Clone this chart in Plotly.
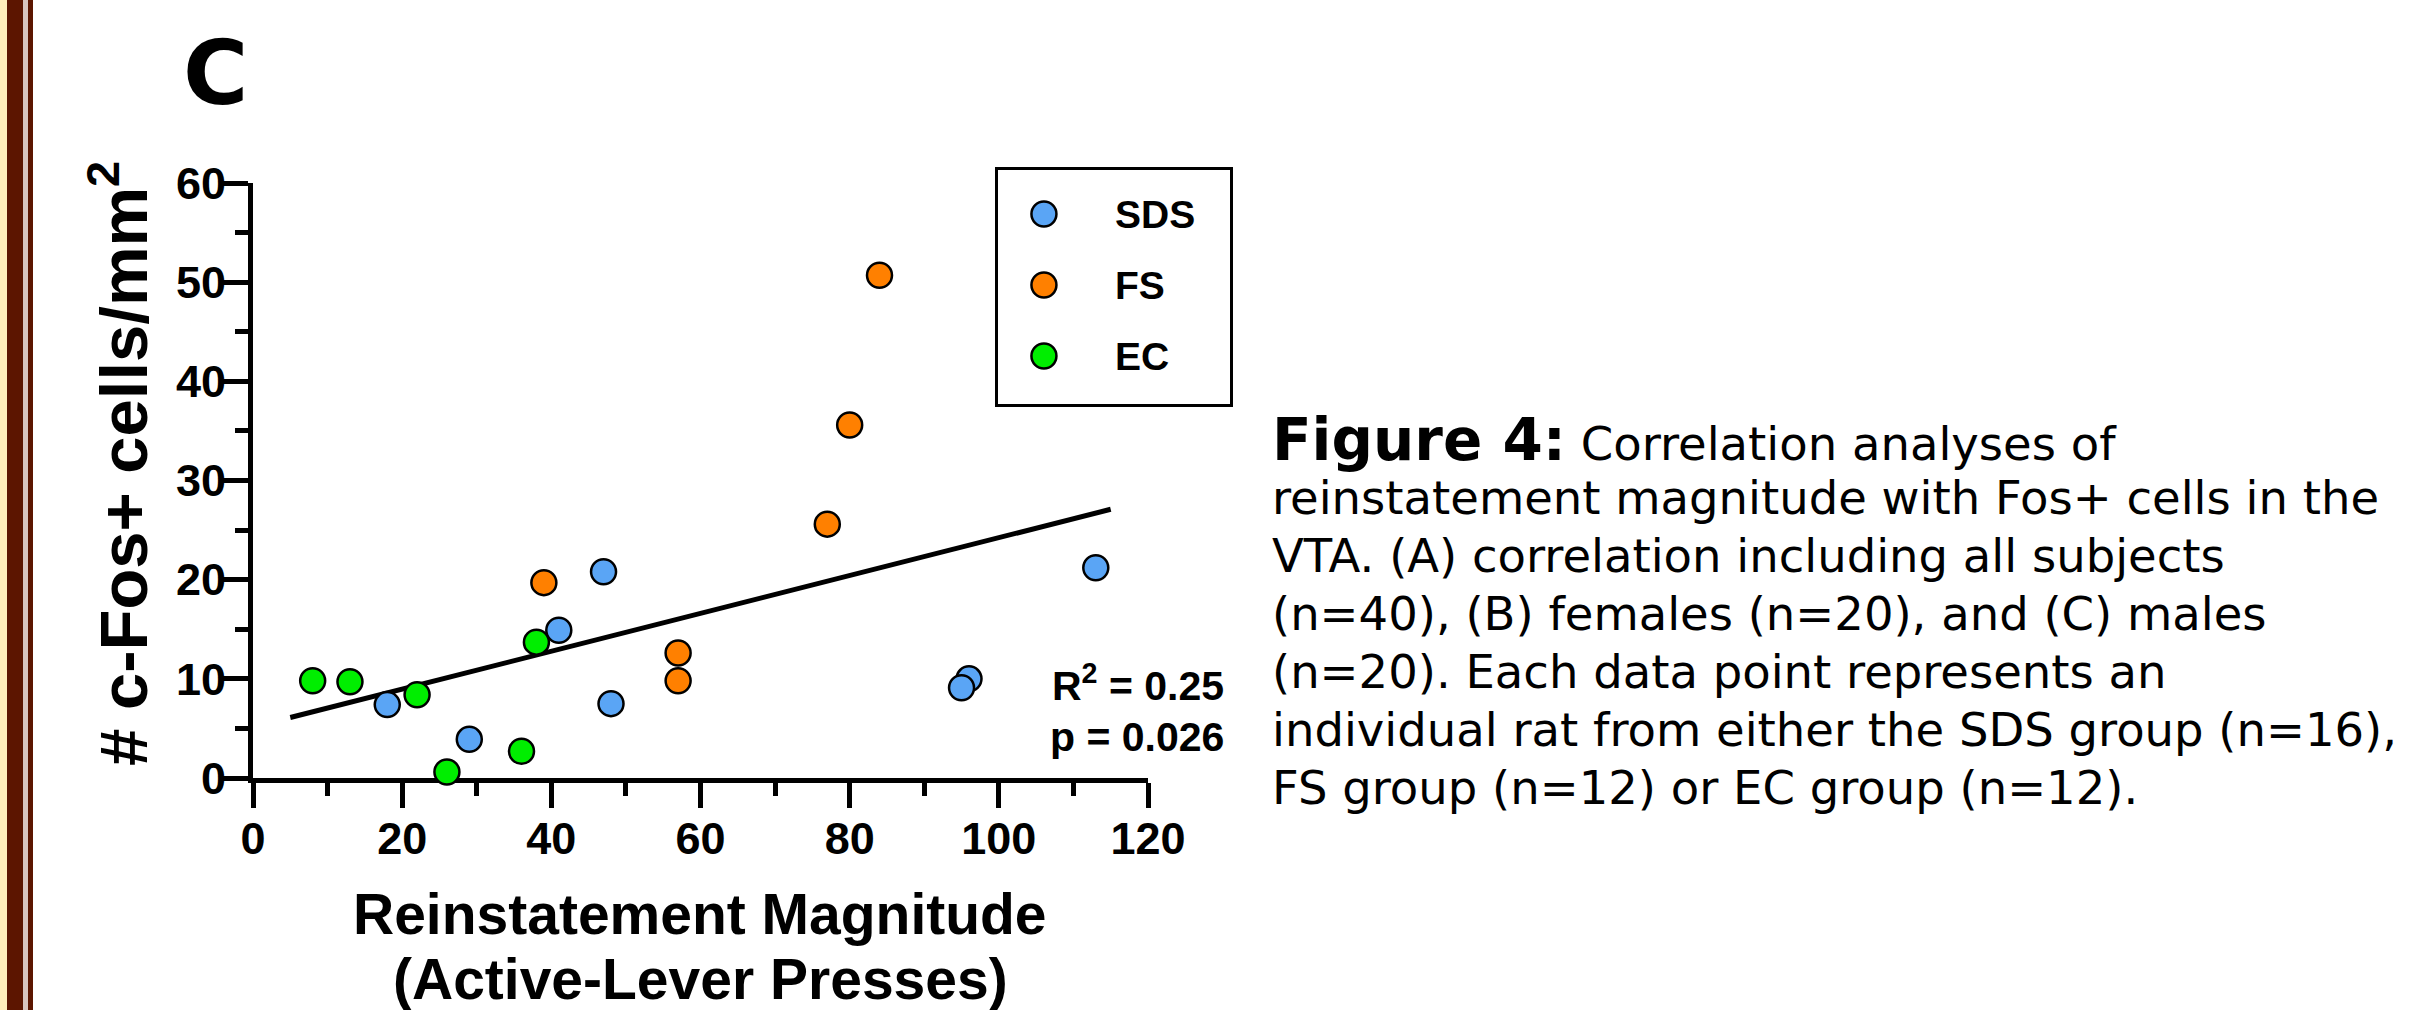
import plotly.graph_objects as go

W, H = 2436, 1010

# ---------------- data ----------------
groups = ["SDS", "FS", "EC"]
group_colors = ["#5AA5F5", "#FF8000", "#00EE00"]

sds_x = [18, 29, 41, 47, 48, 96, 95, 113]
sds_y = [7.4, 3.9, 14.9, 20.8, 7.5, 10.0, 9.1, 21.2]
fs_x = [39, 57, 57, 77, 80, 84]
fs_y = [19.7, 12.6, 9.8, 25.6, 35.6, 50.7]
ec_x = [8, 13, 22, 26, 36, 38]
ec_y = [9.8, 9.7, 8.4, 0.6, 2.7, 13.7]

fit_x = [5, 115]
fit_y = [6.1, 27.1]

x_ticks = [0, 20, 40, 60, 80, 100, 120]
y_ticks = [0, 10, 20, 30, 40, 50, 60]

panel_label = "C"
x_title = ["Reinstatement Magnitude", "(Active-Lever Presses)"]
y_title = "# c-Fos+ cells/mm<sup>2</sup>"
stats_text = ["R<sup>2</sup> = 0.25", "p = 0.026"]
caption_lines = [
    "<span style='font-size:58px'><b>Figure 4:</b></span> Correlation analyses of",
    "reinstatement magnitude with Fos+ cells in the",
    "VTA. (A) correlation including all subjects",
    "(n=40), (B) females (n=20), and (C) males",
    "(n=20). Each data point represents an",
    "individual rat from either the SDS group (n=16),",
    "FS group (n=12) or EC group (n=12).",
]

series_x = [sds_x, fs_x, ec_x]
series_y = [sds_y, fs_y, ec_y]


def px(v):
    return v / W


def py(v):
    return 1 - v / H


ARIAL = "Liberation Sans, Arial, sans-serif"

fig = go.Figure()

# regression line
fig.add_trace(go.Scatter(
    x=fit_x, y=fit_y, mode="lines",
    line=dict(color="black", width=5),
    showlegend=False, hoverinfo="skip", xaxis="x", yaxis="y",
))

# data points
for name, col, xs, ys in zip(groups, group_colors, series_x, series_y):
    fig.add_trace(go.Scatter(
        x=xs, y=ys, mode="markers", name=name,
        marker=dict(size=25, color=col, line=dict(color="black", width=2.5)),
        cliponaxis=False, showlegend=False, xaxis="x", yaxis="y",
    ))

# legend (drawn in its own small axes box)
fig.add_trace(go.Scatter(
    x=[0.198] * len(groups), y=groups, mode="markers",
    marker=dict(size=25, color=group_colors, line=dict(color="black", width=2.5)),
    cliponaxis=False, showlegend=False, xaxis="x2", yaxis="y2", hoverinfo="skip",
))

tickfont = dict(family=ARIAL, size=45, color="black", weight="bold")

fig.update_layout(
    width=W, height=H,
    margin=dict(l=0, r=0, t=0, b=0, autoexpand=False),
    paper_bgcolor="white", plot_bgcolor="white",
    showlegend=False,
    xaxis=dict(
        domain=[px(253), px(1148)], range=[0, 120], anchor="y",
        tickmode="array", tickvals=x_ticks, ticktext=[str(v) for v in x_ticks],
        ticks="outside", ticklen=25, tickwidth=5, tickcolor="black",
        showline=True, linewidth=5, linecolor="black",
        showgrid=False, zeroline=False, layer="below traces",
        minor=dict(tickmode="linear", tick0=0, dtick=10, ticks="outside",
                   ticklen=13, tickwidth=5, tickcolor="black", showgrid=False),
        tickfont=tickfont, automargin=False, ticklabelstandoff=-8,
    ),
    yaxis=dict(
        domain=[py(778), py(183)], range=[0, 60], anchor="x",
        tickmode="array", tickvals=y_ticks, ticktext=[str(v) for v in y_ticks],
        ticks="outside", ticklen=25, tickwidth=5, tickcolor="black",
        showline=True, linewidth=5, linecolor="black",
        showgrid=False, zeroline=False, layer="below traces",
        minor=dict(tickmode="linear", tick0=0, dtick=5, ticks="outside",
                   ticklen=13, tickwidth=5, tickcolor="black", showgrid=False),
        tickfont=tickfont, automargin=False, ticklabelstandoff=-12,
    ),
    xaxis2=dict(
        domain=[px(998), px(1230)], range=[0, 1], anchor="y2",
        showline=True, mirror=True, linewidth=3, linecolor="black",
        showticklabels=False, ticks="", showgrid=False, zeroline=False,
    ),
    yaxis2=dict(
        domain=[py(404), py(170)], anchor="x2", type="category",
        categoryorder="array", categoryarray=groups[::-1], range=[-0.675, 2.62],
        showline=True, mirror=True, linewidth=3, linecolor="black",
        showticklabels=False, ticks="", showgrid=False, zeroline=False,
    ),
)

ann = []
# panel label
ann.append(dict(text=panel_label, x=px(215), y=py(73), xref="paper", yref="paper",
                showarrow=False, xanchor="center", yanchor="middle",
                font=dict(family="DejaVu Sans", size=89, color="black", weight="bold")))
# axis titles
ann.append(dict(text=x_title[0], x=px(700), y=py(914), xref="paper", yref="paper",
                showarrow=False, xanchor="center", yanchor="middle",
                font=dict(family=ARIAL, size=57, color="black", weight="bold")))
ann.append(dict(text=x_title[1], x=px(700), y=py(979), xref="paper", yref="paper",
                showarrow=False, xanchor="center", yanchor="middle",
                font=dict(family=ARIAL, size=57, color="black", weight="bold")))
ann.append(dict(text=y_title, x=px(119), y=py(464), xref="paper", yref="paper",
                showarrow=False, xanchor="center", yanchor="middle", textangle=-90,
                font=dict(family=ARIAL, size=67, color="black", weight="bold")))
# statistics
ann.append(dict(text=stats_text[0], x=px(1226), y=py(683), xref="paper", yref="paper",
                showarrow=False, xanchor="right", yanchor="middle",
                font=dict(family=ARIAL, size=41, color="black", weight="bold")))
ann.append(dict(text=stats_text[1], x=px(1226), y=py(737), xref="paper", yref="paper",
                showarrow=False, xanchor="right", yanchor="middle",
                font=dict(family=ARIAL, size=41, color="black", weight="bold")))
# legend labels
for g in groups:
    ann.append(dict(text=g, x=0.496, y=g, xref="x2", yref="y2",
                    showarrow=False, xanchor="left", yanchor="middle",
                    font=dict(family=ARIAL, size=39, color="black", weight="bold")))
# caption, one annotation per line
for i, line in enumerate(caption_lines):
    ann.append(dict(text=line, x=px(1270), y=py(440 + 58 * i),
                    xref="paper", yref="paper", showarrow=False,
                    xanchor="left", yanchor="middle", align="left",
                    font=dict(family="DejaVu Sans", size=46.5, color="black")))
fig.update_layout(annotations=ann)

# left decorative border
shapes = [
    dict(type="rect", xref="paper", yref="paper", x0=px(0), x1=px(7), y0=0, y1=1,
         fillcolor="#FFEDBB", line=dict(width=0)),
    dict(type="rect", xref="paper", yref="paper", x0=px(7), x1=px(23), y0=0, y1=1,
         fillcolor="#5C1500", line=dict(width=0)),
    dict(type="rect", xref="paper", yref="paper", x0=px(23), x1=px(28), y0=0, y1=1,
         fillcolor="#D9C4BE", line=dict(width=0)),
    dict(type="rect", xref="paper", yref="paper", x0=px(28), x1=px(33), y0=0, y1=1,
         fillcolor="#5C1500", line=dict(width=0)),
]
fig.update_layout(shapes=shapes)

fig.write_html(
    "out.html",
    post_script="document.body.style.margin='0';document.body.style.padding='0';"
                "document.documentElement.style.overflow='hidden';",
)
